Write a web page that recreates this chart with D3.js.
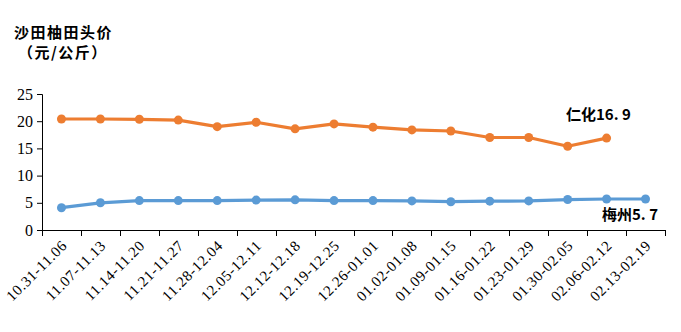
<!DOCTYPE html>
<html><head><meta charset="utf-8">
<script src="https://cdn.jsdelivr.net/npm/d3@7"></script>
<style>body{margin:0;background:#fff}svg{display:block}
.serif{font-family:"Liberation Serif","Times New Roman","DejaVu Serif",serif}</style>
</head><body>
<svg id="c" width="681" height="332"></svg>
<script>
const categories = ["10.31-11.06","11.07-11.13","11.14-11.20","11.21-11.27","11.28-12.04","12.05-12.11","12.12-12.18","12.19-12.25","12.26-01.01","01.02-01.08","01.09-01.15","01.16-01.22","01.23-01.29","01.30-02.05","02.06-02.12","02.13-02.19"];
const renhua = [20.4,20.4,20.35,20.2,19.0,19.8,18.6,19.5,18.9,18.4,18.2,17.0,17.0,15.4,16.9];
const meizhou = [4.1,5.0,5.4,5.4,5.4,5.5,5.55,5.4,5.4,5.35,5.2,5.3,5.35,5.6,5.7,5.7];
const yTicks = [0,5,10,15,20,25];
const titleLines = ["沙田柚田头价","（元/公斤）"];
const seriesLabels = ["仁化16. 9","梅州5. 7"];

const svg = d3.select("#c");
const x = d3.scaleBand().domain(categories).range([42,665]);
const y = d3.scaleLinear().domain([0,25]).range([230,94]);
const cx = d => x(d) + x.bandwidth()/2;

// y axis
const ya = svg.append("g").attr("transform","translate(42,0)")
  .call(d3.axisLeft(y).tickValues(yTicks).tickSize(5).tickPadding(4));
ya.attr("font-family",null);
ya.select(".domain").attr("stroke","#000").attr("d","M-5,94.5H0.5V230.5");
ya.selectAll("text").attr("class","serif").attr("font-size",16).attr("fill","#000");
ya.selectAll("line").attr("stroke","#000");

// x axis
const xa = svg.append("g").attr("transform","translate(0,230)")
  .call(d3.axisBottom(x).tickSize(0).tickFormat(""));
xa.select(".domain").attr("stroke","#000").attr("d","M42,0.5H665.5");
xa.selectAll(".tick").remove();
const bounds = categories.map(c=>x(c)).concat([x.range()[1]]);
xa.selectAll("line.t").data(bounds).enter().append("line")
  .attr("x1",d=>Math.round(d)+0.5).attr("x2",d=>Math.round(d)+0.5).attr("y1",0).attr("y2",6).attr("stroke","#000");
svg.append("g").selectAll("text").data(categories).enter().append("text")
  .attr("class","serif")
  .attr("transform",d=>`translate(${cx(d)+4},${244}) rotate(-45)`)
  .attr("text-anchor","end").attr("dominant-baseline","middle")
  .attr("font-size",15).attr("letter-spacing",0.6).attr("fill","#000")
  .text(d=>d);

// lines
function drawSeries(vals,color){
  const pts = vals.map((v,i)=>[cx(categories[i]),y(v)]);
  svg.append("path").attr("d",d3.line()(pts)).attr("fill","none").attr("stroke",color).attr("stroke-width",3.2).attr("stroke-linejoin","round");
  svg.append("g").selectAll("circle").data(pts).enter().append("circle")
    .attr("cx",d=>d[0]).attr("cy",d=>d[1]).attr("r",4.5).attr("fill",color);
}
drawSeries(renhua,"#ED7D31");
drawSeries(meizhou,"#5B9BD5");

// title
const cjk = "'Noto Sans CJK SC',sans-serif";
svg.append("text").attr("x",14).attr("y",38).attr("font-family",cjk).attr("font-weight","bold").attr("font-size",15).attr("letter-spacing",1.5).attr("fill","#000").text(titleLines[0]);
svg.append("text").attr("x",18).attr("y",58).attr("font-family",cjk).attr("font-weight","bold").attr("font-size",15).attr("letter-spacing",1.5).attr("fill","#000").text(titleLines[1]);

// series labels
svg.append("text").attr("x",566).attr("y",120).attr("font-family",cjk).attr("font-weight","bold").attr("font-size",15).attr("fill","#000").text(seriesLabels[0]);
svg.append("text").attr("x",602).attr("y",220).attr("font-family",cjk).attr("font-weight","bold").attr("font-size",15).attr("fill","#000").text(seriesLabels[1]);
</script>
</body></html>
